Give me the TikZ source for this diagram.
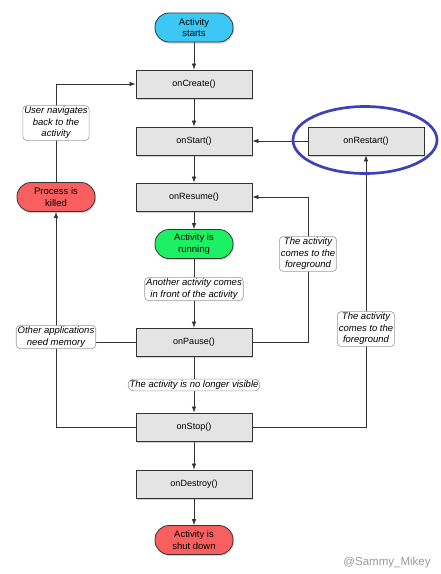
\documentclass[tikz,border=0pt]{standalone}
\usepackage{fontspec}
\setmainfont{Liberation Sans}
\usetikzlibrary{arrows.meta, backgrounds, shadows, shapes.geometric}
\definecolor{startcyan}{RGB}{60,200,245}
\definecolor{runninggreen}{RGB}{30,240,100}
\definecolor{killedred}{RGB}{250,95,95}
\definecolor{ringblue}{RGB}{60,65,185}
\definecolor{boxgray}{RGB}{228,228,228}
\tikzstyle{block} = [line width=0.8pt, draw=black!80, align=center, inner sep=2pt, drop shadow={shadow xshift=1pt, shadow yshift=-1.5pt, opacity=0.35}]
\tikzstyle{method} = [block, rectangle, fill=boxgray, minimum width=116, minimum height=28, font=\fontsize{9}{11}\selectfont]
\tikzstyle{event} = [block, rounded corners=14, minimum width=78, minimum height=29, font=\fontsize{9.5}{11.5}\selectfont]
\tikzstyle{note} = [draw=black!40, line width=0.6pt, fill=white, rounded corners=4, align=center, inner sep=1.5pt, font=\fontsize{9.5}{11.5}\selectfont\itshape]
\tikzstyle{path} = [-{Latex[length=6pt, width=4.5pt]}, line width=0.7pt, draw=black!80]
\tikzstyle{wire} = [line width=0.7pt, draw=black!80]

\begin{document}
\begin{tikzpicture}[x=1pt, y=-1pt]
    \useasboundingbox (0,0) rectangle (440,574);

    % Lifecycle states.
    \node (starts) [event, fill=startcyan] at (194,27.5) {Activity\\starts};
    \node (onCreate) [method] at (194,84) {onCreate()};
    \node (onStart) [method] at (194,141) {onStart()};
    \node (onRestart) [method] at (366,141) {onRestart()};
    \node (onResume) [method] at (194,197) {onResume()};
    \node (running) [event, fill=runninggreen] at (194,244) {Activity is\\running};
    \node (killed) [event, fill=killedred] at (56,197) {Process is\\killed};
    \node (onPause) [method] at (194,342) {onPause()};
    \node (onStop) [method] at (194,427) {onStop()};
    \node (onDestroy) [method] at (194,484) {onDestroy()};
    \node (shutdown) [event, fill=killedred] at (194,540) {Activity is\\shut down};

    % Highlight.
    \node (ring) [ellipse, draw=ringblue, line width=2.7pt, minimum width=144, minimum height=67] at (365,140) {};

    % Notes.
    \node (backNote) [note] at (56,123) {User navigates\\back to the\\activity};
    \node (frontNote) [note] at (194,289) {Another activity comes\\in front of the activity};
    \node (fgNoteA) [note] at (308,254) {The activity\\comes to the\\foreground};
    \node (memNote) [note] at (56,337) {Other applications\\need memory};
    \node (fgNoteB) [note] at (366,329) {The activity\\comes to the\\foreground};
    \node (hiddenNote) [note, rounded corners=6] at (194,385) {The activity is no longer visible};

    % Arrows.
    \begin{pgfonlayer}{background}
    \foreach\i/\j in {starts/onCreate, onCreate/onStart, onStart/onResume, onResume/running,
                      running/onPause, onPause/onStop, onStop/onDestroy, onDestroy/shutdown} {
        \draw [path] (\i) -- (\j);
    }
    \draw [path] (onRestart) -- (onStart);
    \draw [path] (onPause.east) -- (onPause.east -| fgNoteA) |- (onResume.east);
    \draw [path] (onStop.east) -| (onRestart.south);
    \draw [wire] (onPause.west) -- (onPause.west -| memNote);
    \draw [path] (onStop.west) -| (killed.south);
    \draw [path] (killed.north) |- (onCreate.west);
    \end{pgfonlayer}

    \node (mark) [text=black!40, font=\fontsize{11.5}{13}\selectfont] at (387,563) {@Sammy\_Mikey};
\end{tikzpicture}
\end{document}
